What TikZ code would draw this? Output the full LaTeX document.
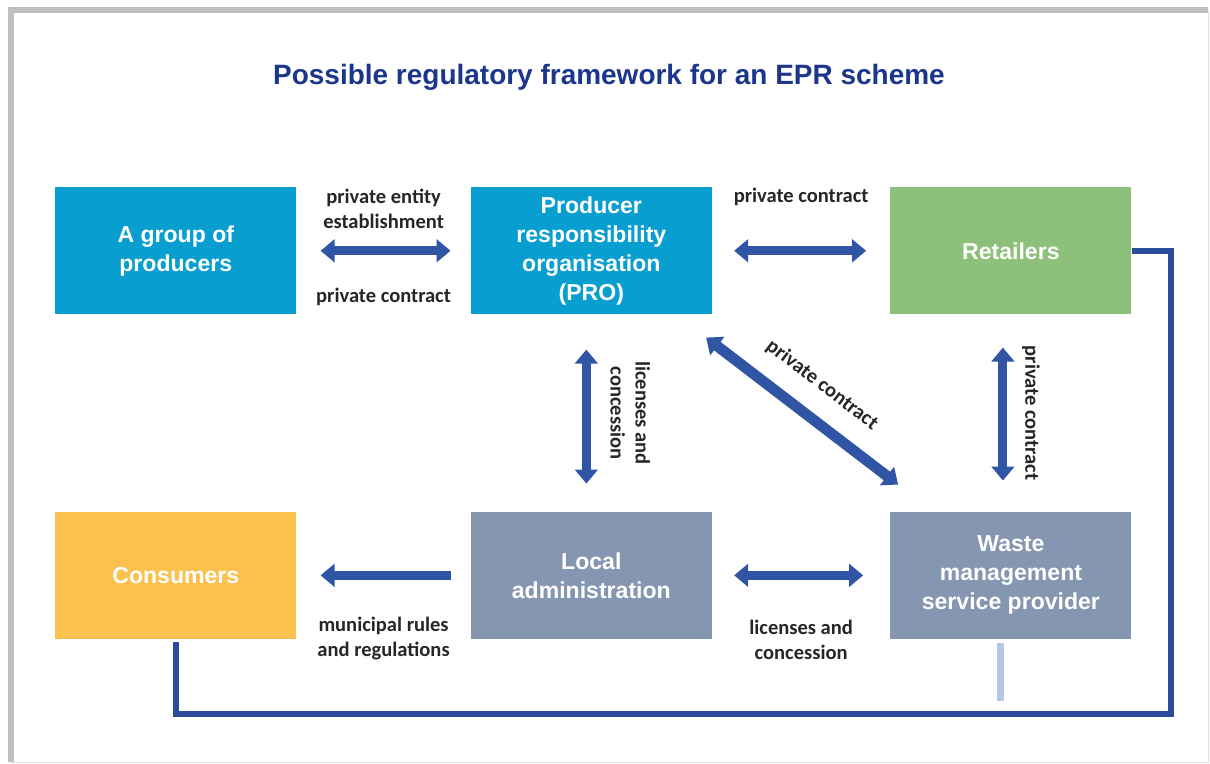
\documentclass[tikz,border=0pt]{standalone}
\usepackage{fontspec}
\setmainfont{Liberation Sans}
\newfontfamily\labelfont{Carlito}
\usetikzlibrary{positioning,arrows.meta}

\definecolor{problue}{RGB}{8,158,208}
\definecolor{retailgreen}{RGB}{141,192,122}
\definecolor{consumeryellow}{RGB}{252,192,78}
\definecolor{adminslate}{RGB}{132,150,176}
\definecolor{arrowblue}{RGB}{47,85,164}
\definecolor{loopblue}{RGB}{43,76,155}
\definecolor{stubblue}{RGB}{180,199,231}
\definecolor{titleblue}{RGB}{28,54,140}

\begin{document}
\begin{tikzpicture}[
box/.style={
  minimum width=6.025cm,
  minimum height=3.175cm,
  inner sep=0pt,
  align=center,
  text=white,
  font=\fontsize{16.4}{20.6}\selectfont\bfseries
},
both/.style={
  arrowblue,
  line width=6.4pt,
  {Triangle[width=16pt,length=10pt]}-{Triangle[width=16pt,length=10pt]}
},
one/.style={
  arrowblue,
  line width=6.4pt,
  -{Triangle[width=16pt,length=10pt]}
},
lbl/.style={
  align=center,
  text=black!85,
  font=\labelfont\fontsize{14.6}{17.8}\selectfont\bfseries
}
]

\useasboundingbox (0,0) rectangle (30.25,-19.075);

%%%%%%%%%%%%%%%%%%%%%%%%%%%%%%%%%%%%%%%%%%%%%%%%%%%%%%
% OUTER FRAME
%%%%%%%%%%%%%%%%%%%%%%%%%%%%%%%%%%%%%%%%%%%%%%%%%%%%%%

\node[
draw=black!12,
fill=white,
minimum width=29.925cm,
minimum height=18.8cm
](frame) at (15.2375,-9.65) {};

\draw[black!25, line width=4.3pt]
  (frame.south west) -- (frame.north west) -- (frame.north east);

%%%%%%%%%%%%%%%%%%%%%%%%%%%%%%%%%%%%%%%%%%%%%%%%%%%%%%
% TITLE
%%%%%%%%%%%%%%%%%%%%%%%%%%%%%%%%%%%%%%%%%%%%%%%%%%%%%%

\node[
text=titleblue,
font=\fontsize{19.9}{23}\selectfont\bfseries
](title) at (15.225,-1.925)
{Possible regulatory framework for an EPR scheme};

%%%%%%%%%%%%%%%%%%%%%%%%%%%%%%%%%%%%%%%%%%%%%%%%%%%%%%
% TOP ROW
%%%%%%%%%%%%%%%%%%%%%%%%%%%%%%%%%%%%%%%%%%%%%%%%%%%%%%

\node[box, fill=problue, anchor=north west]
(group) at (1.375,-4.675)
{A group of\\producers};

\node[box, fill=problue, right=4.35cm of group]
(pro)
{Producer\\responsibility\\organisation\\(PRO)};

\node[box, fill=retailgreen, right=4.45cm of pro]
(retail)
{Retailers};

%%%%%%%%%%%%%%%%%%%%%%%%%%%%%%%%%%%%%%%%%%%%%%%%%%%%%%
% BOTTOM ROW
%%%%%%%%%%%%%%%%%%%%%%%%%%%%%%%%%%%%%%%%%%%%%%%%%%%%%%

\node[box, fill=consumeryellow, below=4.925cm of group]
(consumers)
{Consumers};

\node[box, fill=adminslate, below=4.925cm of pro]
(local)
{Local\\administration};

\node[box, fill=adminslate, below=4.925cm of retail]
(waste)
{Waste\\management\\service provider};

%%%%%%%%%%%%%%%%%%%%%%%%%%%%%%%%%%%%%%%%%%%%%%%%%%%%%%
% ARROWS
%%%%%%%%%%%%%%%%%%%%%%%%%%%%%%%%%%%%%%%%%%%%%%%%%%%%%%

\draw[both, shorten <=0.6cm, shorten >=0.5cm] (group) -- (pro)
  node[lbl, midway, yshift=1.05cm] {private entity\\establishment}
  node[lbl, midway, yshift=-1.15cm] {private contract};

\draw[both, shorten <=0.55cm, shorten >=0.6cm] (pro) -- (retail)
  node[lbl, midway, yshift=1.35cm] {private contract};

\draw[both, shorten <=0.875cm, shorten >=0.7cm]
  ([xshift=-0.125cm]pro.south) -- ([xshift=-0.125cm]local.north)
  node[lbl, midway, xshift=1.1cm, rotate=-90] {licenses and\\concession};

\draw[both, line width=7.6pt]
  ([xshift=-0.15cm,yshift=-0.575cm]pro.south east) --
  ([xshift=0.2cm,yshift=0.675cm]waste.north west)
  node[lbl, midway, sloped, above=0.35cm] {private contract};

\draw[both, shorten <=0.825cm, shorten >=0.775cm]
  ([xshift=-0.2cm]retail.south) -- ([xshift=-0.2cm]waste.north)
  node[lbl, midway, xshift=0.7cm, rotate=-90] {private contract};

\draw[one, shorten <=0.5cm, shorten >=0.6cm] (local) -- (consumers)
  node[lbl, midway, yshift=-1.575cm] {municipal rules\\and regulations};

\draw[both, shorten <=0.55cm, shorten >=0.675cm] (local) -- (waste)
  node[lbl, midway, yshift=-1.625cm] {licenses and\\concession};

%%%%%%%%%%%%%%%%%%%%%%%%%%%%%%%%%%%%%%%%%%%%%%%%%%%%%%
% RETURN LOOP
%%%%%%%%%%%%%%%%%%%%%%%%%%%%%%%%%%%%%%%%%%%%%%%%%%%%%%

\draw[loopblue, line width=4.3pt]
  ([yshift=-0.075cm]consumers.south) -- ++(0,-1.8cm)
  -| ([xshift=0.975cm]retail.east) -- (retail.east);

\coordinate (stubend) at ([xshift=-0.25cm,yshift=-1.55cm]waste.south);
\draw[stubblue, line width=5pt]
  ([xshift=-0.25cm,yshift=-0.1cm]waste.south) -- (stubend);

\end{tikzpicture}
\end{document}
